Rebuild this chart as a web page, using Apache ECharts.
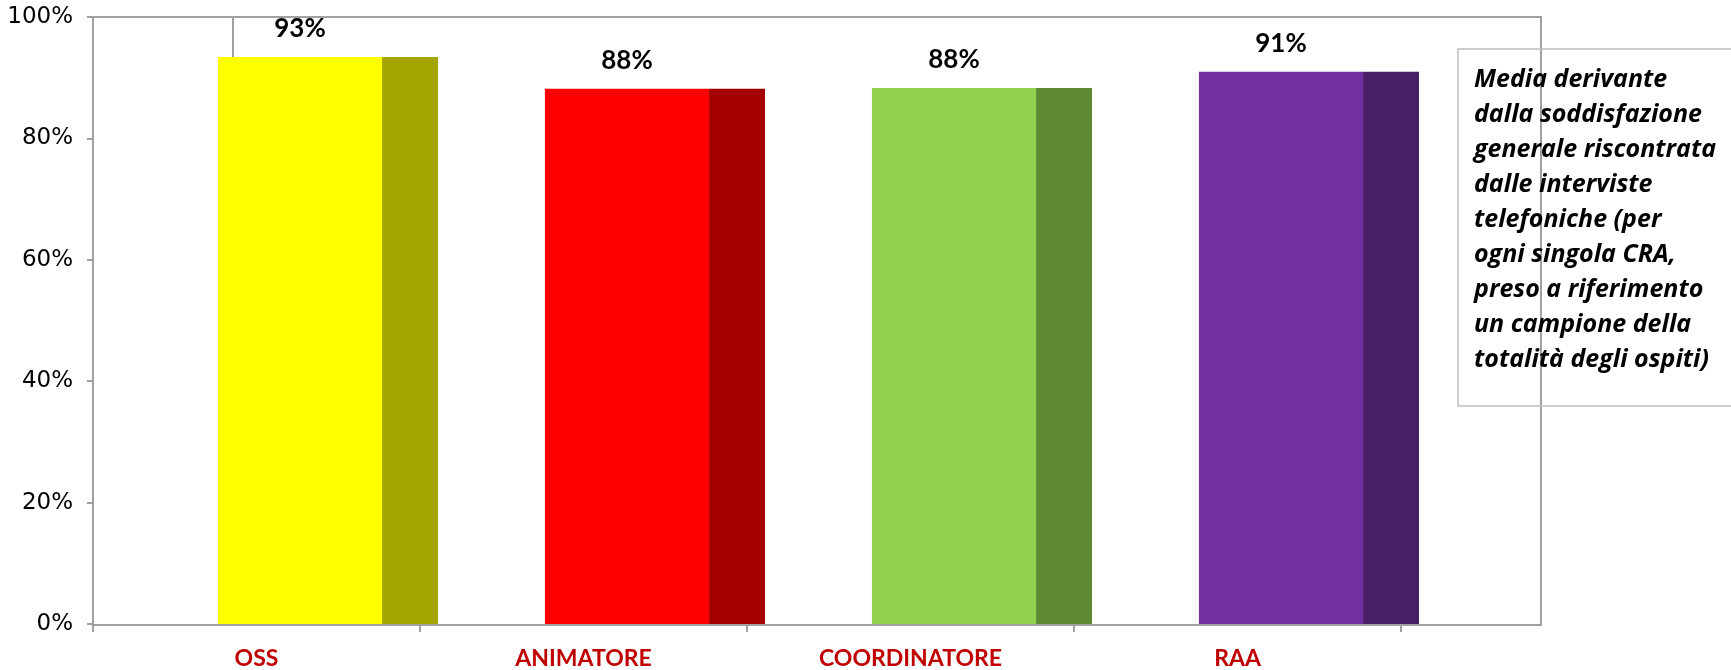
<!DOCTYPE html>
<html>
<head>
<meta charset="utf-8">
<title>Soddisfazione per figura professionale</title>
<script src="https://cdn.jsdelivr.net/npm/echarts@6/dist/echarts.min.js"></script>
<style>
  html, body { margin: 0; padding: 0; background: #ffffff; }
  #chart { width: 1731px; height: 670px; }
</style>
</head>
<body>
<div id="chart"></div>
<script>
// Figure professionali e percentuale media di soddisfazione
const categories = ['OSS', 'ANIMATORE', 'COORDINATORE', 'RAA'];
const satisfaction = [93.4, 88.2, 88.3, 91.0];
const frontColors = ['#FFFF00', '#FF0000', '#92D050', '#7030A0'];
const sideColors = ['#A5A500', '#A50000', '#5E8A34', '#481E66'];
const yTicks = [0, 20, 40, 60, 80, 100];
const noteLines = [
  'Media derivante',
  'dalla soddisfazione',
  'generale riscontrata',
  'dalle interviste',
  'telefoniche (per',
  'ogni singola CRA,',
  'preso a riferimento',
  'un campione della',
  'totalità degli ospiti)'
];

const AXIS_GRAY = '#A0A0A0';
const chart = echarts.init(document.getElementById('chart'), null, { renderer: 'canvas' });

// Each column: a front face plus a darker side face, shifted right within its band
function renderColumn(params, api) {
  const idx = api.value(0);
  const val = api.value(1);
  const top = api.coord([idx, val]);
  const base = api.coord([idx, 0]);
  const band = api.size([1, 0])[0];
  const bandStart = top[0] - band / 2;
  const frontX = bandStart + band * 0.382;
  const frontW = band * 0.502;
  const sideW = band * 0.171;
  const h = base[1] - top[1];
  return {
    type: 'group',
    children: [
      {
        type: 'rect',
        shape: { x: frontX, y: top[1], width: frontW, height: h },
        style: { fill: frontColors[idx] }
      },
      {
        type: 'rect',
        shape: { x: frontX + frontW, y: top[1], width: sideW, height: h },
        style: { fill: sideColors[idx] }
      },
      {
        type: 'text',
        x: frontX + frontW / 2,
        y: top[1] - 28,
        style: {
          text: Math.round(val) + '%',
          fill: '#000000',
          font: 'bold 26px Lato',
          align: 'center',
          verticalAlign: 'middle'
        }
      }
    ]
  };
}

const option = {
  backgroundColor: '#ffffff',
  animation: false,
  grid: [
    { left: 93, right: 330, top: 17, bottom: 45 },
    // outer frame of the plot area
    { left: 93, right: 190, top: 17, bottom: 45, show: true, borderColor: AXIS_GRAY, borderWidth: 2, backgroundColor: 'transparent' }
  ],
  xAxis: [
    {
      type: 'category',
      gridIndex: 0,
      data: categories,
      boundaryGap: true,
      axisLine: { show: false },
      axisTick: { show: true, length: 8, lineStyle: { color: AXIS_GRAY, width: 2 } },
      axisLabel: {
        margin: 23,
        color: '#C00000',
        fontFamily: 'Lato',
        fontWeight: 'bold',
        fontSize: 23
      }
    },
    { type: 'value', gridIndex: 1, show: false, min: 0, max: 1 }
  ],
  yAxis: [
    {
      type: 'value',
      gridIndex: 0,
      min: 0,
      max: 100,
      interval: 20,
      axisLine: { show: true, lineStyle: { color: AXIS_GRAY, width: 2 } },
      axisTick: { show: true, length: 6, lineStyle: { color: AXIS_GRAY, width: 2 } },
      splitLine: { show: false },
      axisLabel: {
        margin: 20,
        padding: [6, 0, 0, 0],
        color: '#000000',
        fontFamily: 'DejaVu Sans',
        fontSize: 23,
        formatter: function (v) { return yTicks.indexOf(v) >= 0 ? v + '%' : ''; }
      }
    },
    { type: 'value', gridIndex: 1, show: false, min: 0, max: 1 }
  ],
  graphic: [
    // back wall edge, partly hidden by the first column
    {
      type: 'line',
      z: 1,
      shape: { x1: 233, y1: 17, x2: 233, y2: 625 },
      style: { stroke: AXIS_GRAY, lineWidth: 2 }
    },
    // note box
    {
      type: 'rect',
      z: 0,
      shape: { x: 1458, y: 49, width: 300, height: 357 },
      style: { fill: 'transparent', stroke: '#BFBFBF', lineWidth: 1.5 }
    },
    {
      type: 'text',
      z: 5,
      x: 1474,
      y: 62,
      style: {
        text: noteLines.join('\n'),
        fill: '#000000',
        font: 'italic bold 25px "Open Sans"',
        lineHeight: 35,
        align: 'left',
        verticalAlign: 'top'
      }
    }
  ],
  series: [
    {
      type: 'custom',
      xAxisIndex: 0,
      yAxisIndex: 0,
      z: 2,
      renderItem: renderColumn,
      encode: { x: 0, y: 1 },
      data: satisfaction.map(function (v, i) { return [i, v]; })
    }
  ]
};

chart.setOption(option);
</script>
</body>
</html>
